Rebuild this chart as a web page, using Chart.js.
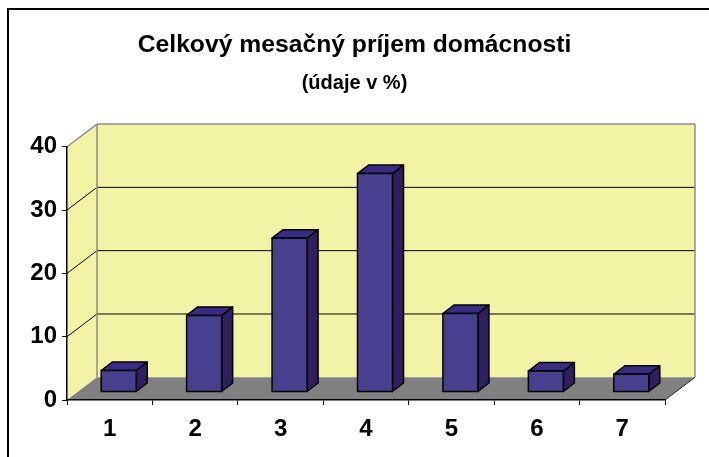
<!DOCTYPE html>
<html>
<head>
<meta charset="utf-8">
<script src="https://cdn.jsdelivr.net/npm/chart.js@4.4.1/dist/chart.umd.min.js"></script>
<style>
  html, body { margin: 0; padding: 0; background: #fff; }
  #wrap { width: 709px; height: 457px; }
</style>
</head>
<body>
<div id="wrap"><canvas id="chart" width="709" height="457"></canvas></div>
<script>
// values (% of households)
const categories = ['1', '2', '3', '4', '5', '6', '7'];
const shares = [3.4, 12.1, 24.3, 34.5, 12.4, 3.3, 2.8];
const yMin = 0;
const yMax = 40;
const yStep = 10;

const FONT = '"Liberation Sans", Arial, sans-serif';

// 3d look: how far the back wall sits behind the front plane, and where the bars sit
const DEPTH = {dx: 30, dy: -22.7};
const BAR_FRONT = {dx: 9, dy: -8};
const BAR_DEPTH = {dx: 11, dy: -8.5};

const colors = {
  wall: '#F3F3A6',
  floor: '#808080',
  edge: '#8C8C8C',
  front: '#47408E',
  side: '#2F1F5E',
  top: '#3A2C82'
};

function poly(ctx, pts, fill, stroke, lw) {
  ctx.beginPath();
  ctx.moveTo(pts[0][0], pts[0][1]);
  for (let i = 1; i < pts.length; i++) ctx.lineTo(pts[i][0], pts[i][1]);
  ctx.closePath();
  if (fill) { ctx.fillStyle = fill; ctx.fill(); }
  if (stroke) { ctx.strokeStyle = stroke; ctx.lineWidth = lw || 1; ctx.stroke(); }
}

function line(ctx, x0, y0, x1, y1, color, lw) {
  ctx.beginPath();
  ctx.moveTo(x0, y0);
  ctx.lineTo(x1, y1);
  ctx.strokeStyle = color;
  ctx.lineWidth = lw || 1;
  ctx.stroke();
}

const box3d = {
  id: 'box3d',
  beforeDraw(chart) {
    const ctx = chart.ctx;
    const area = chart.chartArea;
    const y = chart.scales.y;
    const L = area.left, R = area.right;
    const yTop = y.getPixelForValue(yMax), yBot = y.getPixelForValue(yMin);
    const dx = DEPTH.dx, dy = DEPTH.dy;

    ctx.save();
    ctx.fillStyle = '#fff';
    ctx.fillRect(0, 0, chart.width, chart.height);
    // outer frame, runs off the right and bottom edge
    ctx.strokeStyle = '#000';
    ctx.lineWidth = 2;
    ctx.strokeRect(8, 9, chart.width + 10, chart.height + 10);

    // back wall and side wall
    poly(ctx, [[L + dx, yTop + dy], [R + dx, yTop + dy], [R + dx, yBot + dy], [L + dx, yBot + dy]], colors.wall);
    poly(ctx, [[L, yTop], [L + dx, yTop + dy], [L + dx, yBot + dy], [L, yBot]], colors.wall);

    // gridlines on both walls
    for (let v = yMin + yStep; v < yMax; v += yStep) {
      const py = y.getPixelForValue(v);
      line(ctx, L, py, L + dx, py + dy, '#000', 1);
      line(ctx, L + dx, py + dy, R + dx, py + dy, '#000', 1);
    }
    // wall edges
    line(ctx, L, yTop, L + dx, yTop + dy, colors.edge, 1.5);
    line(ctx, L + dx, yTop + dy, R + dx, yTop + dy, colors.edge, 1.5);
    line(ctx, R + dx, yTop + dy, R + dx, yBot + dy, colors.edge, 1.5);
    line(ctx, L + dx, yTop + dy, L + dx, yBot + dy, colors.edge, 1.5);

    // floor
    poly(ctx, [[L, yBot], [R, yBot], [R + dx, yBot + dy], [L + dx, yBot + dy]], colors.floor);
    line(ctx, R, yBot, R + dx, yBot + dy, '#222', 1);
    ctx.restore();
  },
  afterDatasetsDraw(chart) {
    const ctx = chart.ctx;
    const meta = chart.getDatasetMeta(0);
    ctx.save();
    ctx.lineJoin = 'round';
    meta.data.forEach(bar => {
      const p = bar.getProps(['x', 'y', 'base', 'width'], true);
      const x0 = p.x - p.width / 2 + BAR_FRONT.dx;
      const x1 = p.x + p.width / 2 + BAR_FRONT.dx;
      const t = p.y + BAR_FRONT.dy;
      const b = p.base + BAR_FRONT.dy;
      const ddx = BAR_DEPTH.dx, ddy = BAR_DEPTH.dy;
      poly(ctx, [[x1, t], [x1 + ddx, t + ddy], [x1 + ddx, b + ddy], [x1, b]], colors.side, '#000', 1.5);
      poly(ctx, [[x0, t], [x0 + ddx, t + ddy], [x1 + ddx, t + ddy], [x1, t]], colors.top, '#000', 1.5);
      poly(ctx, [[x0, t], [x1, t], [x1, b], [x0, b]], colors.front, '#000', 1.5);
    });
    ctx.restore();
  }
};

new Chart(document.getElementById('chart'), {
  type: 'bar',
  data: {
    labels: categories,
    datasets: [{
      data: shares,
      backgroundColor: 'rgba(0,0,0,0)',
      borderWidth: 0,
      categoryPercentage: 1,
      barPercentage: 0.41
    }]
  },
  options: {
    responsive: false,
    animation: false,
    events: [],
    layout: {padding: 0},
    plugins: {
      legend: {display: false},
      tooltip: {enabled: false},
      title: {
        display: true,
        text: 'Celkový mesačný príjem domácnosti',
        color: '#000',
        font: {family: FONT, size: 24.7, weight: 'bold'},
        padding: {top: 30.2, bottom: 0}
      },
      subtitle: {
        display: true,
        text: '(údaje v %)',
        color: '#000',
        font: {family: FONT, size: 20, weight: 'bold'},
        padding: {top: 12, bottom: 50.9}
      }
    },
    scales: {
      x: {
        afterFit(scale) { scale.height = 57; },
        grid: {display: true, drawOnChartArea: false, drawTicks: true, tickLength: 5, color: '#000', offset: true},
        border: {display: true, color: '#000', width: 1.5},
        ticks: {color: '#000', font: {family: FONT, size: 24, weight: 'bold'}, padding: 10}
      },
      y: {
        min: yMin,
        max: yMax,
        afterFit(scale) { scale.width = 67; },
        grid: {display: true, drawOnChartArea: false, drawTicks: true, tickLength: 5, color: '#000'},
        border: {display: true, color: '#000', width: 1.5},
        ticks: {stepSize: yStep, color: '#000', font: {family: FONT, size: 24, weight: 'bold'}, padding: 5}
      },
      // empty right-hand axis, only keeps room for the depth of the floor
      pad: {
        type: 'linear',
        position: 'right',
        afterFit(scale) { scale.width = 44; },
        grid: {display: false},
        border: {display: false},
        ticks: {display: false}
      }
    }
  },
  plugins: [box3d]
});
</script>
</body>
</html>
